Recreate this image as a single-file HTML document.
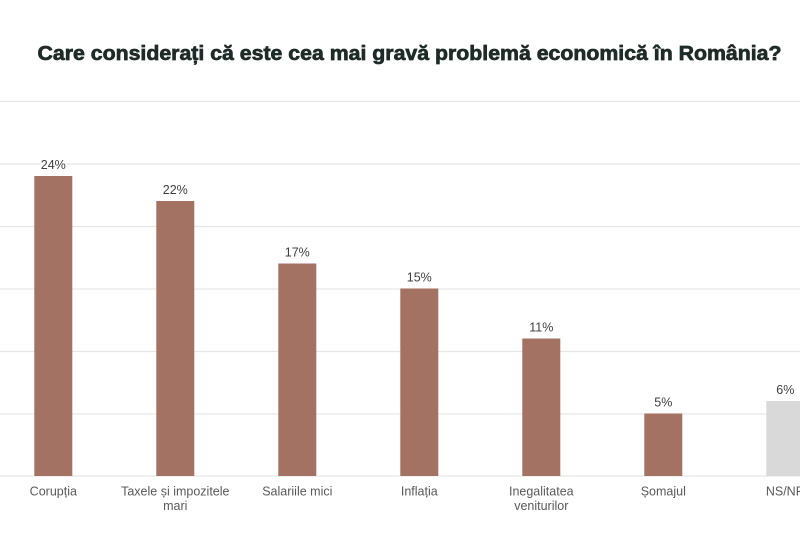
<!DOCTYPE html>
<html><head><meta charset="utf-8"><style>
html,body{margin:0;padding:0;background:#fff;}
svg{display:block;}
</style></head><body>
<svg width="800" height="534" viewBox="0 0 800 534" xmlns="http://www.w3.org/2000/svg">
<rect width="800" height="534" fill="#fff"/>
<text x="37.5" y="60" font-family="Liberation Sans, sans-serif" font-weight="bold" font-size="20" fill="#1f2b28" stroke="#1f2b28" stroke-width="0.7" textLength="744" lengthAdjust="spacingAndGlyphs">Care considerați că este cea mai gravă problemă economică în România?</text>
<g stroke="#e6e6e6" stroke-width="1.2">
<line x1="0" y1="101.5" x2="800" y2="101.5"/>
<line x1="0" y1="164" x2="800" y2="164"/>
<line x1="0" y1="226.5" x2="800" y2="226.5"/>
<line x1="0" y1="289" x2="800" y2="289"/>
<line x1="0" y1="351.5" x2="800" y2="351.5"/>
<line x1="0" y1="414" x2="800" y2="414"/>
<line x1="0" y1="476" x2="800" y2="476"/>
</g>
<g fill="#a47262">
<rect x="34.3" y="176" width="38" height="300"/>
<rect x="156.3" y="201" width="38" height="275"/>
<rect x="278.3" y="263.5" width="38" height="212.5"/>
<rect x="400.3" y="288.5" width="38" height="187.5"/>
<rect x="522.3" y="338.5" width="38" height="137.5"/>
<rect x="644.3" y="413.5" width="38" height="62.5"/>
</g>
<rect x="766.3" y="401" width="38" height="75" fill="#d9d9d9"/>
<g font-family="Liberation Sans, sans-serif" font-size="12.5" fill="#404040" text-anchor="middle" stroke="#fff" stroke-width="3" paint-order="stroke">
<text x="53.3" y="169">24%</text>
<text x="175.3" y="194">22%</text>
<text x="297.3" y="256.5">17%</text>
<text x="419.3" y="281.5">15%</text>
<text x="541.3" y="331.5">11%</text>
<text x="663.3" y="406.5">5%</text>
<text x="785.3" y="394">6%</text>
</g>
<g font-family="Liberation Sans, sans-serif" font-size="12.5" fill="#595959" text-anchor="middle">
<text x="53.3" y="495.5">Corupția</text>
<text x="175.3" y="495.5">Taxele și impozitele</text>
<text x="175.3" y="510">mari</text>
<text x="297.3" y="495.5">Salariile mici</text>
<text x="419.3" y="495.5">Inflația</text>
<text x="541.3" y="495.5">Inegalitatea</text>
<text x="541.3" y="510">veniturilor</text>
<text x="663.3" y="495.5">Șomajul</text>
<text x="785.3" y="495.5">NS/NR</text>
</g>
</svg>
</body></html>
